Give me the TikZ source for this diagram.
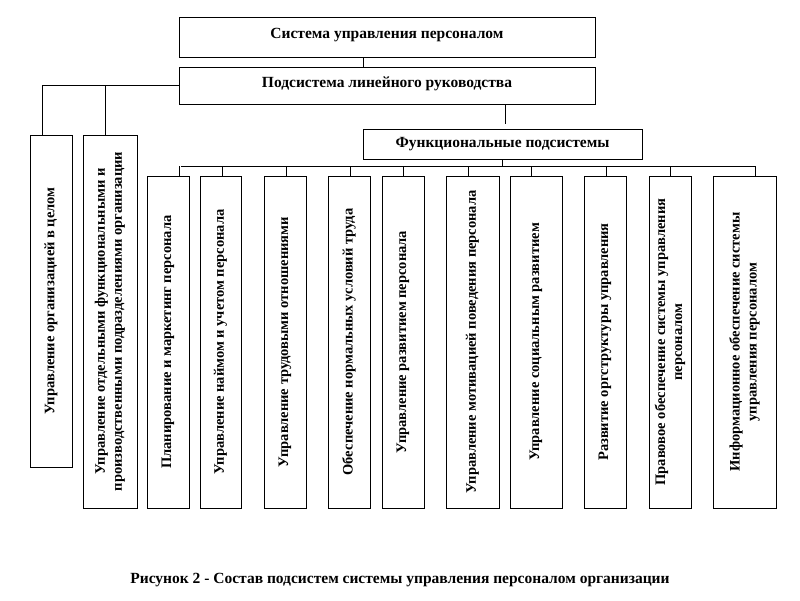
\documentclass[tikz,border=0pt]{standalone}
\usepackage{fontspec}
\setmainfont{Liberation Serif}
\begin{document}
\begin{tikzpicture}[x=1pt,y=-1pt,
  hbox/.style={draw,line width=0.8pt,minimum width=416pt,inner sep=0pt,font=\bfseries\fontsize{15.5}{17}\selectfont},
  vbox/.style={draw,line width=0.8pt,inner sep=0pt},
  vtxt/.style={rotate=90,align=center,font=\bfseries\fontsize{14.5}{17}\selectfont},
  ln/.style={line width=0.7pt}]
\useasboundingbox (0,0) rectangle (800,600);
\node[hbox,minimum height=40pt] (sys) at (387,37) {\raisebox{8pt}{Система управления персоналом}};
\node[hbox,minimum height=37pt] (lin) at (387,85.5) {\raisebox{6pt}{Подсистема линейного руководства}};
\node[hbox,minimum width=279pt,minimum height=30pt] (fs) at (502.5,144) {Функциональные подсистемы};
\draw[ln] (sys.south -| 363,0) -- (lin.north -| 363,0);
% left boxes
\node[vbox,minimum width=42pt,minimum height=332pt] (a1) at (51,301) {};
\node[vtxt] at (a1) {Управление организацией в целом};
\node[vbox,minimum width=54pt,minimum height=373pt] (a2) at (110,321.5) {};
\node[vtxt] at (a2) {Управление отдельными функциональными и\\производственными подразделениями организации};
\coordinate (lk) at (179,85);
\draw[ln] (lin.west |- lk) -- (42,85) -- (a1.north -| 42,0);
\draw[ln] (a2.north -| 105,0) -- (105,85);
\draw[ln] (lin.south -| 505,0) -- (505,124);
\coordinate (bus) at (0,166);
\draw[ln] (181,166) -- (755,166);
% functional boxes
\foreach \n/\l/\r/\d/\t in {
 b1/147/189/179/{Планирование и маркетинг персонала},
 b2/200/241/222/{Управление наймом и учетом персонала},
 b3/264/306/286/{Управление трудовыми отношениями},
 b4/328/370/350/{Обеспечение нормальных условий труда},
 b5/382/424/403/{Управление развитием персонала},
 b6/446/499/468/{Управление мотивацией поведения персонала},
 b7/510/562/531/{Управление социальным развитием},
 b8/584/626/606/{Развитие оргструктуры управления},
 b9/649/691/670/{Правовое обеспечение системы управления\\персоналом},
 b10/713/776/755/{Информационное обеспечение системы\\управления персоналом}}{
  \node[vbox,minimum width={\r-\l},minimum height=332pt] (\n) at ({(\l+\r)/2},342) {};
  \node[vtxt] at (\n) {\t};
  \draw[ln] (\n.north -| \d,0) -- (\d,166);
}
\draw[ln] (fs.south) -- (502.5,166);
\node[font=\bfseries\fontsize{15.5}{18}\selectfont] (cap) at (400,580) {Рисунок 2 - Состав подсистем системы управления персоналом организации};
\end{tikzpicture}
\end{document}
